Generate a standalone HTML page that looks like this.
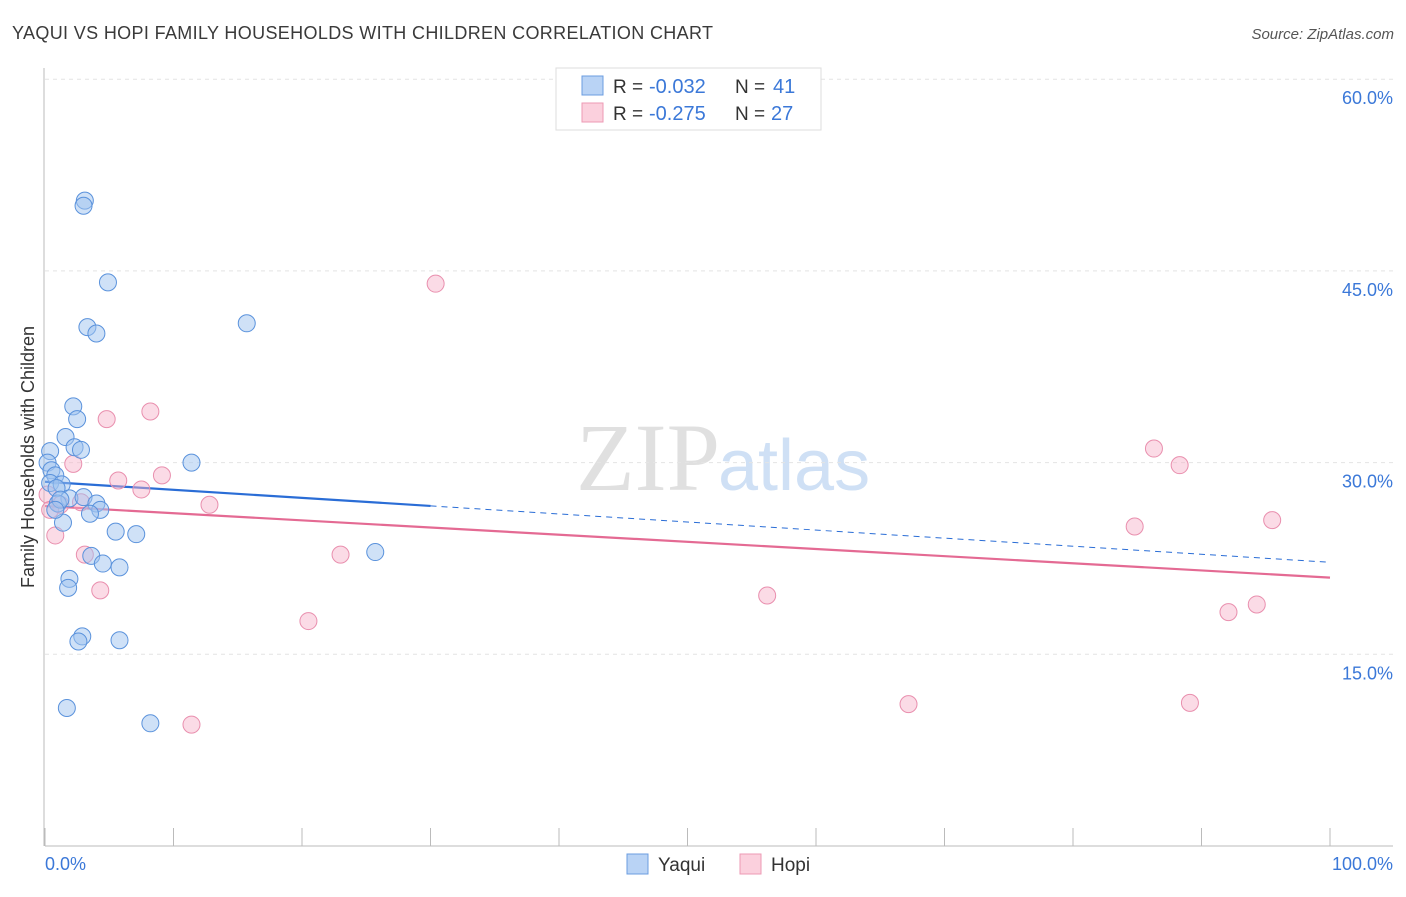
<!DOCTYPE html>
<html><head><meta charset="utf-8"><style>
body{margin:0;background:#fff;font-family:"Liberation Sans",sans-serif;}
</style></head><body>
<svg width="1406" height="892" xmlns="http://www.w3.org/2000/svg" font-family="Liberation Sans, sans-serif">
<text x="12" y="39" font-size="18" fill="#3a3a3a" textLength="701">YAQUI VS HOPI FAMILY HOUSEHOLDS WITH CHILDREN CORRELATION CHART</text>
<text x="1394" y="39" font-size="15" fill="#555" text-anchor="end" font-style="italic">Source: ZipAtlas.com</text>
<text x="720" y="490" font-size="96" fill="#e0e0e0" text-anchor="end" font-family="Liberation Serif, serif">ZIP</text>
<text x="718" y="490" font-size="72" fill="#cfe0f5">atlas</text>
<g id="grid"></g><g id="axes"></g><g id="trend"></g><g id="pts"></g>
<text transform="translate(34,457) rotate(-90)" font-size="18" fill="#333" text-anchor="middle">Family Households with Children</text>
<text x="45" y="870" font-size="18" fill="#3b78d8">0.0%</text>
<text x="1393" y="870" font-size="18" fill="#3b78d8" text-anchor="end">100.0%</text>
<g>
<rect x="556" y="68" width="265" height="62" fill="#fff" stroke="#ddd"/>
<rect x="582" y="76" width="21" height="19" fill="#b9d3f5" stroke="#6b9de0"/>
<rect x="582" y="103" width="21" height="19" fill="#fbd0dd" stroke="#ec9ab4"/>
<text x="613" y="93" font-size="19" fill="#333">R =</text>
<text x="649" y="93" font-size="20" fill="#3b78d8">-0.032</text>
<text x="735" y="93" font-size="19" fill="#333">N =</text>
<text x="773" y="93" font-size="20" fill="#3b78d8">41</text>
<text x="613" y="120" font-size="19" fill="#333">R =</text>
<text x="649" y="120" font-size="20" fill="#3b78d8">-0.275</text>
<text x="735" y="120" font-size="19" fill="#333">N =</text>
<text x="771" y="120" font-size="20" fill="#3b78d8">27</text>
</g>
<g>
<rect x="627" y="854" width="21" height="20" fill="#b9d3f5" stroke="#6b9de0"/>
<text x="658" y="871" font-size="19" fill="#333">Yaqui</text>
<rect x="740" y="854" width="21" height="20" fill="#fbd0dd" stroke="#ec9ab4"/>
<text x="771" y="871" font-size="19" fill="#333">Hopi</text>
</g>
</svg>
<script>
const yTicks=[15,30,45,60];
const yTickLabels=["15.0%","30.0%","45.0%","60.0%"];
const xTicks=[0,10,20,30,40,50,60,70,80,90,100];
const yaquiX=[3.1,3.0,4.9,3.3,4.0,15.7,2.2,2.5,1.6,2.3,2.8,0.4,0.2,11.4,0.5,0.8,0.4,1.3,0.9,1.9,3.0,4.0,1.0,4.3,3.5,1.4,5.5,7.1,3.6,4.5,5.8,25.7,1.9,1.8,2.9,2.6,5.8,1.7,8.2,1.2,0.8];
const yaquiY=[50.5,50.1,44.1,40.6,40.1,40.9,34.4,33.4,32.0,31.2,31.0,30.9,30.0,30.0,29.4,29.0,28.4,28.3,28.0,27.2,27.3,26.8,26.8,26.3,26.0,25.3,24.6,24.4,22.7,22.1,21.8,23.0,20.9,20.2,16.4,16.0,16.1,10.8,9.6,27.1,26.3];
const hopiX=[30.4,8.2,4.8,2.2,9.1,5.7,7.5,2.8,12.8,0.8,3.1,4.3,23.0,20.5,11.4,56.2,67.2,86.3,88.3,84.8,95.5,92.1,94.3,89.1,1.2,0.2,0.4];
const hopiY=[44.0,34.0,33.4,29.9,29.0,28.6,27.9,26.9,26.7,24.3,22.8,20.0,22.8,17.6,9.5,19.6,11.1,31.1,29.8,25.0,25.5,18.3,18.9,11.2,26.7,27.5,26.3];
const yaquiTrend=[28.5,22.2];
const hopiTrend=[26.6,21.0];
const yaquiSolidEnd=30;
const NS="http://www.w3.org/2000/svg";
const sx=v=>45+v*12.85, sy=v=>846-v*12.78;
function mk(t,a,p){const e=document.createElementNS(NS,t);for(const k in a)e.setAttribute(k,a[k]);document.getElementById(p).appendChild(e);return e;}
yTicks.forEach((t,i)=>{
 const l=mk('line',{x1:45,x2:1393,y1:sy(t),y2:sy(t),stroke:'#e4e4e4','stroke-dasharray':'4,4'},'grid');
 
 
 const tx=mk('text',{x:1393,y:sy(t)+25,'font-size':18,fill:'#3b78d8','text-anchor':'end'},'grid');
 tx.textContent=yTickLabels[i];
 
 
});
const ax=mk('line',{x1:45,x2:1393,y1:846,y2:846,stroke:'#bbb'},'axes');


const ay=mk('line',{x1:44,x2:44,y1:68,y2:846,stroke:'#bbb'},'axes');


xTicks.forEach(t=>{const l=mk('line',{x1:sx(t),x2:sx(t),y1:828,y2:846,stroke:'#bbb'},'axes');
 
 });
const yt=v=>yaquiTrend[0]+(yaquiTrend[1]-yaquiTrend[0])*v/100;
const ht=v=>hopiTrend[0]+(hopiTrend[1]-hopiTrend[0])*v/100;
let e=mk('line',{x1:sx(0),y1:sy(yt(0)),x2:sx(yaquiSolidEnd),y2:sy(yt(yaquiSolidEnd)),stroke:'#2a6dd6','stroke-width':2.2},'trend');


e=mk('line',{x1:sx(yaquiSolidEnd),y1:sy(yt(yaquiSolidEnd)),x2:sx(100),y2:sy(yt(100)),stroke:'#2a6dd6','stroke-width':1,'stroke-dasharray':'6,5'},'trend');


e=mk('line',{x1:sx(0),y1:sy(ht(0)),x2:sx(100),y2:sy(ht(100)),stroke:'#e46a93','stroke-width':2.2},'trend');


hopiX.forEach((x,i)=>{const c=mk('circle',{cx:sx(x),cy:sy(hopiY[i]),r:8.5,fill:'rgba(246,176,200,0.45)',stroke:'#e98fae','stroke-width':1},'pts');
 
 });
yaquiX.forEach((x,i)=>{const c=mk('circle',{cx:sx(x),cy:sy(yaquiY[i]),r:8.5,fill:'rgba(160,196,240,0.5)',stroke:'#5a92dc','stroke-width':1},'pts');
 
 });
</script>
</body></html>
